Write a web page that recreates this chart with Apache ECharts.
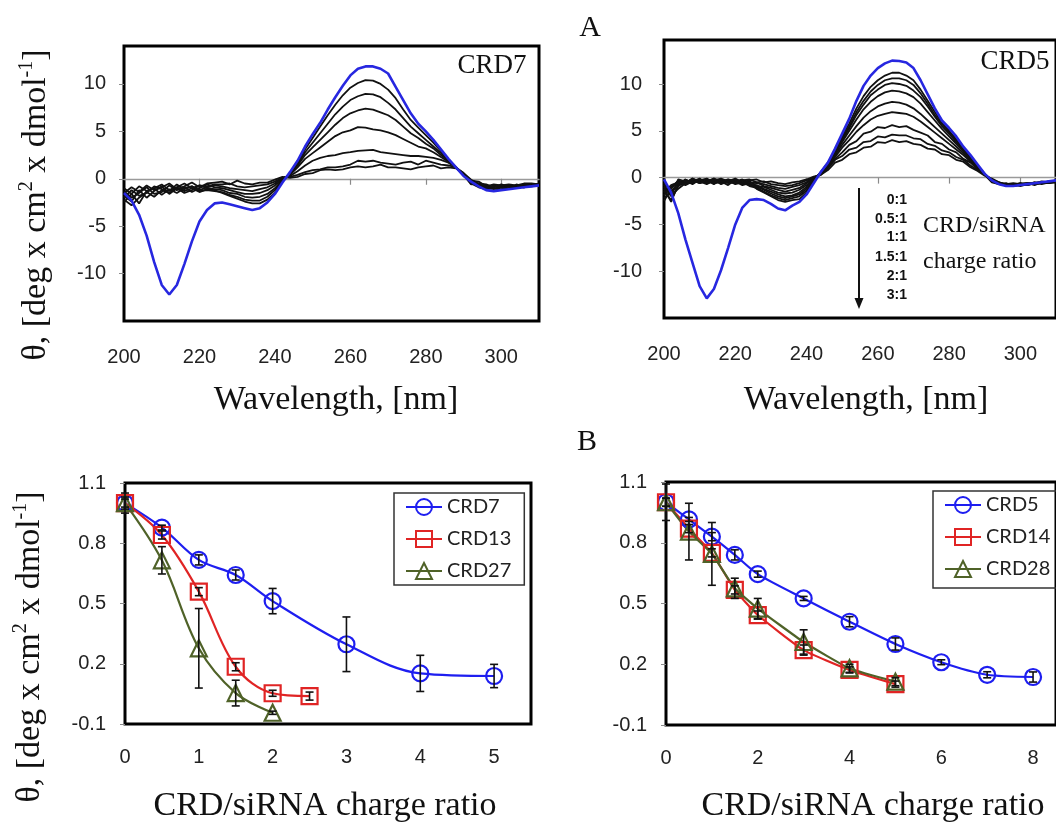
<!DOCTYPE html>
<html><head><meta charset="utf-8">
<script src="https://cdn.jsdelivr.net/npm/echarts@6/dist/echarts.min.js"></script>
<style>html,body{margin:0;padding:0;background:#fff}#c{width:1056px;height:826px}</style>
</head><body><div id="c"></div>
<script>
// ---------- Panel A: CD spectra ----------
const wavelength = [200,202,204,206,208,210,212,214,216,218,220,222,224,226,228,230,232,234,236,238,240,242,244,246,248,250,252,254,256,258,260,262,264,266,268,270,272,274,276,278,280,282,284,286,288,290,292,294,296,298,300,302,304,306,308,310];

// CRD7 panel: free siRNA (blue) and complexes (black)
const crd7Free = [-1.5,-2.3,-3.8,-6.0,-8.8,-11.2,-12.2,-11.2,-9.0,-6.6,-4.5,-3.3,-2.6,-2.5,-2.7,-2.9,-3.1,-3.3,-3.1,-2.5,-1.6,-0.4,
  0.7,1.9,3.4,4.7,5.9,7.3,8.6,9.8,10.9,11.6,11.85,11.85,11.6,11.1,9.7,8.3,6.9,5.8,5.0,4.1,3.1,2.1,1.2,0.3,
  -0.3,-0.8,-1.2,-1.3,-1.2,-1.1,-1.0,-0.9,-0.8,-0.7];
const crd7C1 = [-2.2,-2.8,-2.0,-1.4,-1.9,-1.2,-1.5,-0.9,-1.3,-1.0,-1.4,-1.1,-1.2,-1.5,-1.8,-2.1,-2.4,-2.6,-2.6,-2.2,-1.5,-0.3,
  0.6,1.7,3.1,4.3,5.5,6.7,7.8,8.8,9.6,10.1,10.4,10.35,10.0,9.4,8.5,7.3,6.2,5.4,4.6,3.8,2.9,2.0,1.2,0.4,
  -0.5,-0.9,-1.1,-1.0,-1.2,-1.0,-0.9,-0.8,-0.8,-0.7];
const crd7C2 = [-2.5,-1.6,-2.6,-1.3,-1.0,-1.7,-1.1,-1.5,-1.0,-0.8,-1.3,-1.2,-1.3,-1.4,-1.7,-1.9,-2.2,-2.3,-2.3,-1.9,-1.2,-0.2,
  0.5,1.5,2.8,3.8,4.8,5.8,6.8,7.6,8.3,8.7,8.95,8.9,8.6,8.0,7.3,6.4,5.5,4.8,4.1,3.4,2.7,1.9,1.2,0.4,
  -0.3,-0.7,-1.0,-0.8,-0.9,-1.1,-0.8,-0.9,-0.7,-0.6];
const crd7C3 = [-1.8,-2.4,-1.2,-2.0,-1.3,-0.8,-1.6,-1.0,-1.5,-1.2,-0.7,-1.0,-1.1,-1.2,-1.5,-1.6,-1.9,-2.0,-1.9,-1.6,-1.0,-0.1,
  0.5,1.4,2.5,3.3,4.1,4.9,5.7,6.4,6.9,7.2,7.4,7.3,7.0,6.7,6.2,5.5,4.8,4.3,3.7,3.2,2.5,1.9,1.2,0.4,
  -0.6,-0.5,-0.9,-1.1,-0.8,-0.8,-1.0,-0.7,-0.6,-0.7];
const crd7C4 = [-1.3,-2.0,-1.5,-0.9,-1.6,-1.4,-0.7,-1.2,-0.9,-1.4,-1.0,-0.6,-0.9,-1.0,-1.2,-1.4,-1.6,-1.6,-1.5,-1.2,-0.7,0.0,
  0.4,1.2,2.1,2.7,3.3,3.9,4.5,4.9,5.1,5.45,5.4,5.2,5.1,4.9,4.6,4.2,3.8,3.4,3.2,2.8,2.3,1.8,1.2,0.4,
  -0.2,-0.8,-0.7,-1.0,-1.1,-0.7,-0.8,-0.9,-0.7,-0.5];
const crd7C5 = [-2.0,-1.2,-1.8,-1.5,-0.8,-1.1,-1.3,-0.6,-1.1,-0.8,-1.2,-0.9,-0.7,-0.8,-1.0,-1.1,-1.2,-1.3,-1.1,-0.9,-0.5,0.1,
  0.3,0.8,1.4,1.9,2.2,2.4,2.5,2.7,2.8,2.95,3.0,3.05,2.8,2.7,2.6,2.5,2.4,2.4,2.3,2.2,2.0,1.7,1.2,0.5,
  -0.4,-0.6,-1.0,-0.7,-0.9,-1.0,-0.6,-0.8,-0.6,-0.6];
const crd7C6 = [-1.0,-1.6,-0.8,-1.3,-1.0,-0.6,-1.2,-0.9,-0.5,-1.0,-0.7,-0.8,-0.6,-0.6,-0.5,-0.8,-0.9,-0.8,-0.7,-0.6,-0.3,0.1,
  0.2,0.4,0.7,0.9,1.0,1.2,1.2,1.3,1.5,1.9,1.8,1.9,1.7,1.6,1.5,1.7,1.8,1.5,1.9,1.7,1.5,1.4,1.2,0.6,
  -0.1,-0.5,-0.6,-0.9,-0.6,-0.8,-0.9,-0.6,-0.7,-0.5];
const crd7C7 = [-1.5,-0.9,-1.4,-0.7,-1.2,-0.9,-0.5,-1.1,-0.8,-0.4,-0.9,-0.5,-0.4,-0.3,-0.6,-0.2,-0.5,-0.6,-0.4,-0.4,-0.1,0.2,
  0.1,0.2,0.5,0.6,0.9,1.0,0.9,1.0,1.2,1.3,1.2,1.3,1.5,1.2,1.2,1.1,1.0,1.2,1.3,1.4,1.1,1.2,1.1,0.6,
  -0.2,-0.3,-0.8,-0.6,-0.7,-0.6,-0.7,-0.5,-0.5,-0.6];

// CRD5 panel
const crd5Free = [-0.2,-1.6,-3.8,-6.6,-9.1,-11.6,-12.9,-11.9,-9.9,-7.5,-5.0,-3.2,-2.4,-2.3,-2.4,-2.8,-3.3,-3.5,-3.0,-2.6,-1.8,-0.6,
  0.6,1.6,3.1,4.7,6.3,8.2,9.8,10.9,11.7,12.2,12.5,12.45,12.3,11.7,10.4,8.9,7.4,6.1,5.3,4.4,3.3,2.4,1.4,0.4,
  -0.3,-0.7,-0.9,-0.9,-0.8,-0.7,-0.6,-0.5,-0.4,-0.3];
const crd5C1 = [-1.4,-2.4,-0.9,-0.5,-0.2,-0.6,-0.3,-0.7,-0.2,-0.5,-0.4,-0.8,-0.6,-1.2,-1.6,-2.0,-2.4,-2.6,-2.4,-2.3,-1.6,-0.5,
  0.6,1.6,2.9,4.4,5.8,7.4,8.7,9.7,10.4,10.9,11.2,11.2,10.9,10.4,9.4,8.2,7.0,5.9,5.0,4.1,3.1,2.2,1.3,0.4,
  -0.4,-0.7,-0.8,-0.9,-0.8,-0.7,-0.7,-0.6,-0.5,-0.5];
const crd5C2 = [-2.2,-1.5,-0.6,-0.3,-0.7,-0.2,-0.5,-0.1,-0.6,-0.3,-0.7,-0.5,-0.9,-1.1,-1.5,-1.9,-2.2,-2.4,-2.2,-2.0,-1.4,-0.4,
  0.6,1.5,2.8,4.2,5.5,7.0,8.2,9.2,9.9,10.4,10.6,10.6,10.4,9.9,9.0,7.9,6.7,5.7,4.9,4.0,3.0,2.1,1.2,0.4,
  -0.3,-0.6,-0.9,-0.8,-0.7,-0.8,-0.6,-0.5,-0.6,-0.4];
const crd5C3 = [-0.8,-1.9,-1.2,-0.6,-0.1,-0.4,-0.7,-0.3,-0.4,-0.8,-0.2,-0.6,-0.7,-1.0,-1.3,-1.7,-2.0,-2.2,-2.0,-1.8,-1.2,-0.3,
  0.5,1.5,2.7,4.0,5.3,6.7,7.8,8.8,9.4,9.9,10.1,10.0,9.8,9.3,8.6,7.6,6.5,5.5,4.7,3.8,2.9,2.0,1.1,0.3,
  -0.5,-0.7,-0.7,-0.9,-0.7,-0.6,-0.7,-0.6,-0.4,-0.5];
const crd5C4 = [-1.9,-1.0,-0.4,-0.8,-0.4,-0.1,-0.6,-0.4,-0.2,-0.5,-0.6,-0.3,-0.8,-0.8,-1.2,-1.5,-1.8,-2.0,-1.9,-1.6,-1.0,-0.2,
  0.5,1.4,2.6,3.8,5.0,6.2,7.3,8.1,8.7,9.1,9.3,9.2,9.0,8.6,7.9,7.0,6.1,5.2,4.4,3.6,2.8,1.9,1.1,0.3,
  -0.2,-0.6,-0.8,-0.7,-0.9,-0.7,-0.5,-0.7,-0.5,-0.4];
const crd5C5 = [-1.2,-2.6,-0.7,-0.2,-0.5,-0.3,-0.2,-0.6,-0.5,-0.2,-0.4,-0.7,-0.4,-0.9,-1.0,-1.3,-1.6,-1.7,-1.6,-1.3,-0.8,-0.2,
  0.5,1.3,2.4,3.5,4.5,5.5,6.4,7.1,7.6,7.9,8.1,8.0,7.8,7.4,6.8,6.1,5.4,4.7,4.0,3.3,2.6,1.8,1.0,0.3,
  -0.4,-0.5,-0.8,-0.8,-0.6,-0.8,-0.6,-0.5,-0.6,-0.5];
const crd5C6 = [-2.5,-1.2,-0.3,-0.6,-0.1,-0.5,-0.4,-0.2,-0.7,-0.4,-0.1,-0.5,-0.6,-0.5,-0.9,-1.1,-1.3,-1.5,-1.3,-1.1,-0.6,-0.1,
  0.4,1.2,2.2,3.2,4.0,4.9,5.6,6.2,6.6,6.8,7.0,6.9,6.8,6.5,6.0,5.4,4.8,4.2,3.6,3.0,2.4,1.7,1.0,0.3,
  -0.3,-0.7,-0.6,-0.9,-0.7,-0.6,-0.8,-0.5,-0.5,-0.4];
const crd5C7 = [-0.6,-1.5,-0.9,-0.2,-0.6,-0.3,-0.1,-0.5,-0.3,-0.6,-0.4,-0.2,-0.5,-0.6,-0.7,-0.9,-1.1,-1.2,-1.0,-0.8,-0.5,0.0,
  0.4,1.1,2.0,2.7,3.5,3.9,4.7,4.9,5.4,5.3,5.6,5.4,5.5,5.1,4.8,4.5,3.8,3.6,3.0,2.7,2.0,1.6,0.9,0.3,
  -0.2,-0.5,-0.8,-0.7,-0.8,-0.7,-0.6,-0.6,-0.4,-0.5];
const crd5C8 = [-1.6,-0.8,-0.5,-0.7,-0.3,-0.6,-0.4,-0.1,-0.4,-0.2,-0.5,-0.3,-0.2,-0.5,-0.4,-0.7,-0.8,-0.9,-0.8,-0.6,-0.3,0.0,
  0.3,1.0,1.9,2.3,3.0,3.2,3.8,3.9,4.4,4.3,4.6,4.5,4.5,4.2,4.1,3.6,3.4,2.9,2.7,2.2,1.9,1.3,0.8,0.3,
  -0.3,-0.6,-0.7,-0.8,-0.6,-0.7,-0.5,-0.6,-0.5,-0.4];
const crd5C9 = [-1.0,-2.0,-0.2,-0.4,-0.5,-0.2,-0.6,-0.3,-0.1,-0.4,-0.2,-0.5,-0.3,-0.2,-0.5,-0.4,-0.6,-0.7,-0.5,-0.4,-0.2,0.1,
  0.3,0.8,1.6,1.9,2.5,2.7,3.2,3.3,3.8,3.7,4.0,3.8,3.9,3.6,3.5,3.1,3.0,2.5,2.4,1.9,1.7,1.1,0.7,0.2,
  -0.1,-0.5,-0.7,-0.6,-0.7,-0.6,-0.6,-0.4,-0.5,-0.3];

const ratioLabels = ['0:1','0.5:1','1:1','1.5:1','2:1','3:1'];
const specTicks = [200,220,240,260,280,300];
const specZeroTicks = [220,240,260,280,300];
const specYTicks = [-10,-5,0,5,10];

// ---------- Panel B: normalised ellipticity vs charge ratio ----------
const crd7X = [0,0.5,1,1.5,2,3,4,5];
const crd7Y = [1.0,0.878,0.717,0.642,0.512,0.297,0.152,0.139];
const crd7Err = [0.05,0.012,0.025,0.025,0.063,0.136,0.09,0.058];
const crd13X = [0,0.5,1,1.5,2,2.5];
const crd13Y = [1.0,0.841,0.559,0.185,0.053,0.039];
const crd13Err = [0.02,0.02,0.02,0.02,0.015,0.02];
const crd27X = [0,0.5,1,1.5,2];
const crd27Y = [1.0,0.715,0.277,0.054,-0.044];
const crd27Err = [0.03,0.068,0.198,0.064,0.008];

const crd5X = [0,0.5,1,1.5,2,3,4,5,6,7,8];
const crd5Y = [1.0,0.915,0.83,0.74,0.645,0.525,0.41,0.30,0.21,0.148,0.137];
const crd5Err = [0.02,0.01,0.02,0.025,0.015,0.01,0.025,0.03,0.012,0.015,0.025];
const crd14X = [0,0.5,1,1.5,2,3,4,5];
const crd14Y = [1.0,0.87,0.75,0.567,0.443,0.27,0.172,0.102];
const crd14Err = [0.02,0.02,0.02,0.02,0.02,0.025,0.015,0.015];
const crd28X = [0,0.5,1,1.5,2,3,4,5];
const crd28Y = [1.0,0.855,0.745,0.575,0.475,0.31,0.18,0.114];
const crd28Err = [0.09,0.14,0.155,0.05,0.05,0.06,0.02,0.02];

const bYTicks = [-0.1,0.2,0.5,0.8,1.1];
const bLeftXTicks = [0,1,2,3,4,5];
const bRightXTicks = [0,2,4,6,8];

// ---------- build ----------
const SERIF = 'Liberation Serif';
const SANS = 'Liberation Sans';
const BLUE_A = '#2727e0';
const BLUE = '#1e1ef0', RED = '#e02424', OLIVE = '#4f6228';

const pairs = (xs, ys) => xs.map((x, i) => [x, ys[i]]);
const triples = (xs, ys, es) => xs.map((x, i) => [x, ys[i], es[i]]);

function specLine(vals, xi, yi, color, w) {
  return { type: 'line', xAxisIndex: xi, yAxisIndex: yi, data: pairs(wavelength, vals),
    symbol: 'none', silent: true, lineStyle: { color: color, width: w }, z: color === '#111' ? 2 : 3 };
}
function errRender(params, api) {
  const x = api.value(0), y = api.value(1), e = api.value(2);
  const hi = api.coord([x, y + e]), lo = api.coord([x, y - e]);
  const w = 4;
  const st = { stroke: '#111', lineWidth: 1.6 };
  return { type: 'group', children: [
    { type: 'line', shape: { x1: hi[0], y1: hi[1], x2: lo[0], y2: lo[1] }, style: st },
    { type: 'line', shape: { x1: hi[0] - w, y1: hi[1], x2: hi[0] + w, y2: hi[1] }, style: st },
    { type: 'line', shape: { x1: lo[0] - w, y1: lo[1], x2: lo[0] + w, y2: lo[1] }, style: st }
  ]};
}
function errSeries(xs, ys, es, xi, yi) {
  return { type: 'custom', xAxisIndex: xi, yAxisIndex: yi, data: triples(xs, ys, es),
    renderItem: errRender, encode: { x: 0, y: 1 }, z: 6, silent: true };
}
function ratioLine(name, xs, ys, xi, yi, color, symbol, smooth) {
  return { name: name, type: 'line', xAxisIndex: xi, yAxisIndex: yi, data: pairs(xs, ys),
    symbol: symbol, symbolSize: 16, smooth: smooth, showAllSymbol: true,
    lineStyle: { color: color, width: 2.2 },
    itemStyle: { color: 'transparent', borderColor: color, borderWidth: 2.2 }, z: 4 };
}

const tickLbl = { fontFamily: SANS, fontSize: 20, color: '#222' };
const grayTick = { show: true, length: 5, lineStyle: { color: '#8a8a8a', width: 1 } };
const noSplit = { show: false };

const gridBoxes = [
  { left: 124, top: 46, width: 415, height: 275 },
  { left: 664, top: 40, width: 398, height: 278 },
  { left: 125, top: 483, width: 406, height: 241 },
  { left: 666, top: 482, width: 402, height: 243 }
];
const grids = gridBoxes.map(g => Object.assign({}, g, { show: true, borderColor: '#000', borderWidth: 3, backgroundColor: 'transparent', containLabel: false }));

const specYRange = [[-15, 14], [-15, 14.7]];

function specXAxes(gi) {
  const r = specYRange[gi], h = gridBoxes[gi].height;
  // move the zero-line axis up from the bottom edge to value 0
  const zeroOffset = -(0 - r[0]) / (r[1] - r[0]) * h;
  return [
    { gridIndex: gi, type: 'value', min: 200, max: 310, position: 'bottom',
      axisLine: { show: false, onZero: false }, axisTick: { show: false }, splitLine: noSplit,
      axisLabel: Object.assign({ margin: 26, customValues: specTicks }, tickLbl) },
    { gridIndex: gi, type: 'value', min: 200, max: 310, position: 'bottom', offset: zeroOffset,
      axisLine: { show: true, onZero: false, lineStyle: { color: '#9a9a9a', width: 1.3 } },
      axisTick: { show: true, length: 6, lineStyle: { color: '#8a8a8a', width: 1.2 }, customValues: specZeroTicks },
      axisLabel: { show: false }, splitLine: noSplit }
  ];
}

const xAxes = [
  ...specXAxes(0), ...specXAxes(1),
  { gridIndex: 2, type: 'value', min: 0, max: 5.5, position: 'bottom', axisLine: { show: false, onZero: false }, axisTick: { show: false }, splitLine: noSplit,
    axisLabel: Object.assign({ margin: 23, customValues: bLeftXTicks }, tickLbl) },
  { gridIndex: 3, type: 'value', min: 0, max: 8.5, position: 'bottom', axisLine: { show: false, onZero: false }, axisTick: { show: false }, splitLine: noSplit,
    axisLabel: Object.assign({ margin: 23, customValues: bRightXTicks }, tickLbl) }
];
const yAxes = [
  { gridIndex: 0, type: 'value', min: specYRange[0][0], max: specYRange[0][1], axisLine: { show: false, onZero: false }, splitLine: noSplit,
    axisTick: Object.assign({ customValues: specYTicks }, grayTick),
    axisLabel: Object.assign({ margin: 18, customValues: specYTicks }, tickLbl) },
  { gridIndex: 1, type: 'value', min: specYRange[1][0], max: specYRange[1][1], axisLine: { show: false, onZero: false }, splitLine: noSplit,
    axisTick: Object.assign({ customValues: specYTicks }, grayTick),
    axisLabel: Object.assign({ margin: 22, customValues: specYTicks }, tickLbl) },
  { gridIndex: 2, type: 'value', min: -0.1, max: 1.1, axisLine: { show: false, onZero: false }, splitLine: noSplit,
    axisTick: Object.assign({ customValues: bYTicks }, grayTick),
    axisLabel: Object.assign({ margin: 19, customValues: bYTicks, formatter: v => String(Math.round(v * 10) / 10) }, tickLbl) },
  { gridIndex: 3, type: 'value', min: -0.1, max: 1.1, axisLine: { show: false, onZero: false }, splitLine: noSplit,
    axisTick: Object.assign({ customValues: bYTicks }, grayTick),
    axisLabel: Object.assign({ margin: 19, customValues: bYTicks, formatter: v => String(Math.round(v * 10) / 10) }, tickLbl) }
];

const BLK = '#111';
const series = [
  ...[crd7C1, crd7C2, crd7C3, crd7C4, crd7C5, crd7C6, crd7C7].map(v => specLine(v, 0, 0, BLK, 1.8)),
  specLine(crd7Free, 0, 0, BLUE_A, 2.6),
  ...[crd5C1, crd5C2, crd5C3, crd5C4, crd5C5, crd5C6, crd5C7, crd5C8, crd5C9].map(v => specLine(v, 2, 1, BLK, 1.8)),
  specLine(crd5Free, 2, 1, BLUE_A, 2.6),
  ratioLine('CRD7', crd7X, crd7Y, 4, 2, BLUE, 'circle', 0.35),
  ratioLine('CRD13', crd13X, crd13Y, 4, 2, RED, 'rect', 0.35),
  ratioLine('CRD27', crd27X, crd27Y, 4, 2, OLIVE, 'triangle', 0.35),
  errSeries(crd7X, crd7Y, crd7Err, 4, 2),
  errSeries(crd13X, crd13Y, crd13Err, 4, 2),
  errSeries(crd27X, crd27Y, crd27Err, 4, 2),
  ratioLine('CRD5', crd5X, crd5Y, 5, 3, BLUE, 'circle', 0.25),
  ratioLine('CRD14', crd14X, crd14Y, 5, 3, RED, 'rect', 0.15),
  ratioLine('CRD28', crd28X, crd28Y, 5, 3, OLIVE, 'triangle', 0.15),
  errSeries(crd5X, crd5Y, crd5Err, 5, 3),
  errSeries(crd14X, crd14Y, crd14Err, 5, 3),
  errSeries(crd28X, crd28Y, crd28Err, 5, 3)
];

const legendBase = { orient: 'vertical', itemGap: 12, itemWidth: 36, itemHeight: 20, selectedMode: false,
  textStyle: { fontFamily: 'Lato', fontSize: 20, color: '#222', lineHeight: 20 } };
const legends = [
  Object.assign({ data: ['CRD7', 'CRD13', 'CRD27'], left: 394, top: 493, padding: [4, 13, 4, 11],
    borderColor: '#333', borderWidth: 1.5 }, legendBase),
  // right-hand legend box runs past the canvas edge; its frame is drawn as a graphic rect
  Object.assign({ data: ['CRD5', 'CRD14', 'CRD28'], left: 933, top: 491, padding: [4, 0, 4, 11], borderWidth: 0 }, legendBase)
];

function yTitle(x, y) {
  return { type: 'text', x: x, y: y, rotation: Math.PI / 2, silent: true,
    style: { text: '{n|θ, [deg x cm}{s|2}{n| x dmol}{s|-1}{n|]}', align: 'center', verticalAlign: 'middle', fill: '#111',
      rich: { n: { fontFamily: SERIF, fontSize: 34, lineHeight: 38, fill: '#111' },
              s: { fontFamily: SERIF, fontSize: 20, lineHeight: 20, verticalAlign: 'top', fill: '#111' } } } };
}
function txt(x, y, s, size, family, align, weight) {
  return { type: 'text', x: x, y: y, silent: true,
    style: { text: s, fontFamily: family, fontSize: size, fontWeight: weight || 'normal', fill: '#111',
      align: align || 'center', verticalAlign: 'middle' } };
}
const ratioY = [200, 219, 237, 257, 276, 295];
const graphics = [
  txt(590, 28, 'A', 30, SERIF),
  txt(587, 442, 'B', 30, SERIF),
  txt(492, 66, 'CRD7', 27, SERIF),
  txt(1015, 62, 'CRD5', 27, SERIF),
  txt(336, 400, 'Wavelength, [nm]', 34, SERIF),
  txt(866, 400, 'Wavelength, [nm]', 34, SERIF),
  txt(325, 806, 'CRD/siRNA charge ratio', 34, SERIF),
  txt(873, 806, 'CRD/siRNA charge ratio', 34, SERIF),
  yTitle(36, 205),
  yTitle(30, 647),
  ...ratioLabels.map((s, i) => txt(907, ratioY[i], s, 14, SANS, 'right', 'bold')),
  txt(923, 226, 'CRD/siRNA', 24, SERIF, 'left'),
  txt(923, 262, 'charge ratio', 24, SERIF, 'left'),
  { type: 'line', silent: true, shape: { x1: 859, y1: 188, x2: 859, y2: 300 }, style: { stroke: '#111', lineWidth: 2 } },
  { type: 'polygon', silent: true, shape: { points: [[854.5, 298], [863.5, 298], [859, 309]] }, style: { fill: '#111' } },
  { type: 'rect', silent: true, shape: { x: 933, y: 491, width: 140, height: 97 }, style: { fill: 'none', stroke: '#333', lineWidth: 1.5 } }
];

const chart = echarts.init(document.getElementById('c'), null, { renderer: 'canvas' });
chart.setOption({
  animation: false,
  backgroundColor: '#ffffff',
  grid: grids,
  xAxis: xAxes,
  yAxis: yAxes,
  legend: legends,
  series: series,
  graphic: graphics
});
</script>
</body></html>
